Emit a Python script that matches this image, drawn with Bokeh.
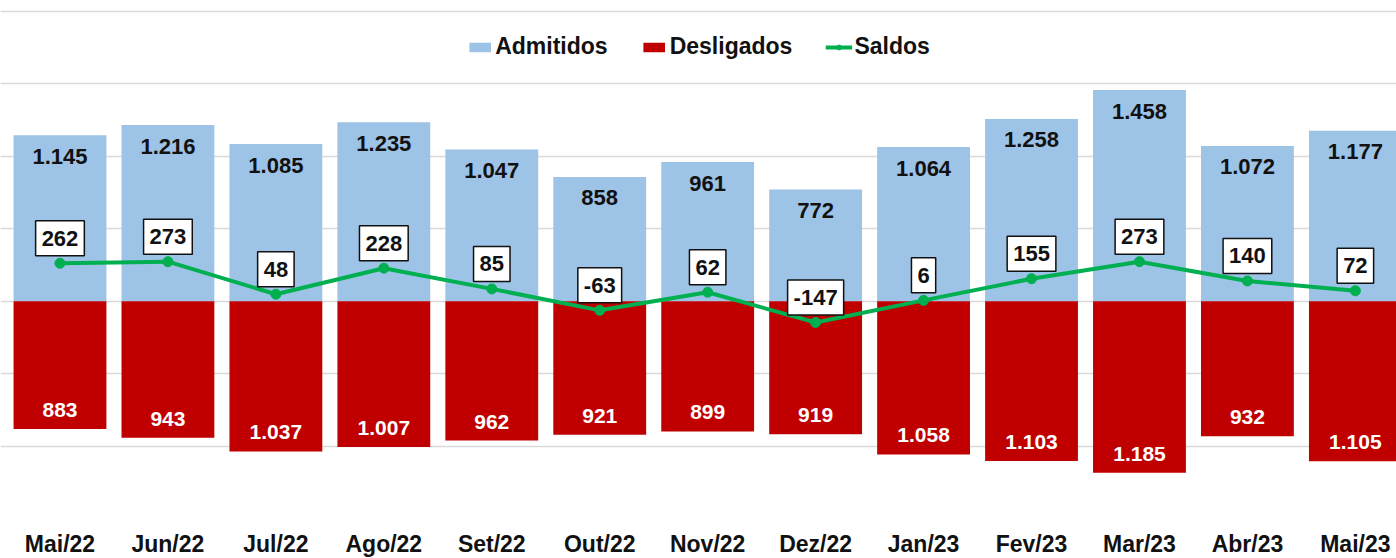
from bokeh.plotting import figure
from bokeh.models import ColumnDataSource, FixedTicker, Legend, LegendItem, Range1d
from bokeh.core.properties import value
from bokeh.embed import file_html
from bokeh.resources import INLINE

meses = ["Mai/22", "Jun/22", "Jul/22", "Ago/22", "Set/22", "Out/22", "Nov/22",
         "Dez/22", "Jan/23", "Fev/23", "Mar/23", "Abr/23", "Mai/23"]
admitidos = [1145, 1216, 1085, 1235, 1047, 858, 961, 772, 1064, 1258, 1458, 1072, 1177]
desligados = [883, 943, 1037, 1007, 962, 921, 899, 919, 1058, 1103, 1185, 932, 1105]
saldos = [262, 273, 48, 228, 85, -63, 62, -147, 6, 155, 273, 140, 72]
y_ticks = [-1500, -1000, -500, 0, 500, 1000, 1500, 2000]

def fmt(v):
    return f"{v:,}".replace(",", ".")

xs = list(range(len(meses)))
src = ColumnDataSource(dict(
    x=xs,
    adm=admitidos,
    des=[-d for d in desligados],
    sal=saldos,
    adm_lbl=[fmt(v) for v in admitidos],
    des_lbl=[fmt(v) for v in desligados],
    sal_lbl=[fmt(v) for v in saldos],
))

FONT = "Liberation Sans"
BLUE = "#9DC3E6"
RED = "#C00000"
GREEN = "#00B050"

p = figure(frame_width=1396, frame_height=510, output_backend="svg", toolbar_location=None,
           x_range=Range1d(-0.551, 12.381), y_range=Range1d(-1500, 2020.7),
           min_border_left=0, min_border_right=0, min_border_top=8, min_border_bottom=0)
p.outline_line_color = None
p.background_fill_color = "white"
p.border_fill_color = "white"

p.yaxis.visible = False
p.ygrid.ticker = FixedTicker(ticks=y_ticks)
p.ygrid.grid_line_color = "#D9D9D9"
p.ygrid.grid_line_width = 1.5
p.xgrid.visible = False

p.xaxis.ticker = FixedTicker(ticks=xs)
p.xaxis.major_label_overrides = {i: m for i, m in enumerate(meses)}
p.xaxis.axis_line_color = None
p.xaxis.major_tick_line_color = None
p.xaxis.minor_tick_line_color = None
p.xaxis.major_tick_out = 0
p.xaxis.major_tick_in = 0
p.xaxis.major_label_standoff = 12
p.xaxis.major_label_text_font = FONT
p.xaxis.major_label_text_font_style = "bold"
p.xaxis.major_label_text_font_size = "23px"
p.xaxis.major_label_text_color = "#111111"

W = 0.86
r_adm = p.vbar(x="x", top="adm", bottom=0, width=W, source=src, fill_color=BLUE, line_color=None)
r_des = p.vbar(x="x", top=0, bottom="des", width=W, source=src, fill_color=RED, line_color=None)

p.text(x="x", y="adm", text="adm_lbl", source=src, y_offset=21,
       text_align="center", text_baseline="middle", text_font=value(FONT),
       text_font_style="bold", text_font_size="22px", text_color="#111111")
p.text(x="x", y="des", text="des_lbl", source=src, y_offset=-19,
       text_align="center", text_baseline="middle", text_font=value(FONT),
       text_font_style="bold", text_font_size="21px", text_color="white")

r_line = p.line(x="x", y="sal", source=src, line_color=GREEN, line_width=4)
r_pts = p.scatter(x="x", y="sal", source=src, size=10, fill_color=GREEN, line_color=GREEN)

p.text(x="x", y="sal", text="sal_lbl", source=src, y_offset=-25,
       text_align="center", text_baseline="middle", text_font=value(FONT),
       text_font_style="bold", text_font_size="22px", text_color="#111111",
       background_fill_color="white", border_line_color="#111111", border_line_width=1.5,
       padding=(6, 10))

legend = Legend(items=[
    LegendItem(label="Admitidos", renderers=[r_adm]),
    LegendItem(label="Desligados", renderers=[r_des]),
    LegendItem(label="Saldos", renderers=[r_line, r_pts]),
], orientation="horizontal", location="top_center")
legend.label_text_font = FONT
legend.label_text_font_style = "bold"
legend.label_text_font_size = "23px"
legend.label_text_color = "#111111"
legend.glyph_width = 27
legend.glyph_height = 12
legend.label_standoff = 2
legend.spacing = 33
legend.padding = 0
legend.margin = 25
legend.border_line_alpha = 0
legend.background_fill_alpha = 0
p.add_layout(legend, "center")

open("out.html", "w").write(file_html(p, INLINE))
